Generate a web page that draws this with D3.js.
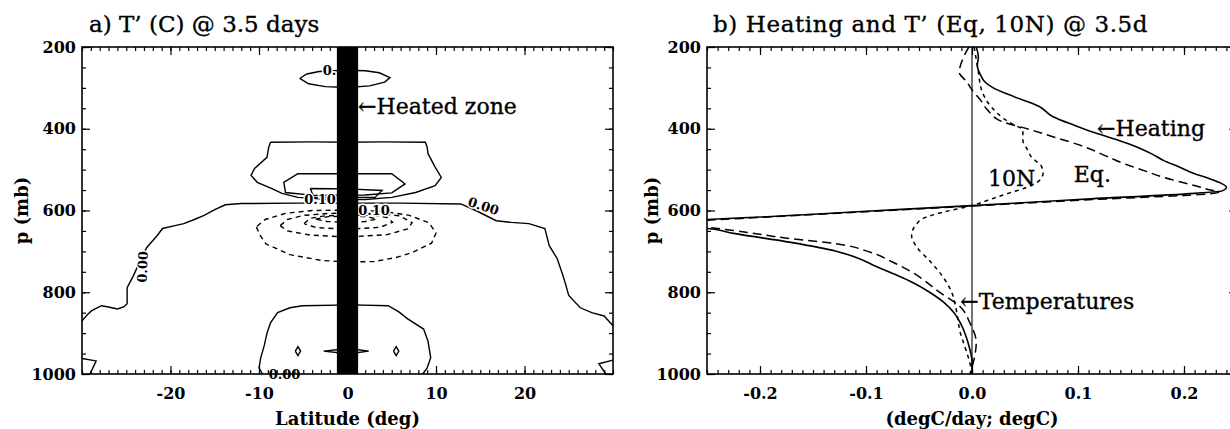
<!DOCTYPE html>
<html>
<head>
<meta charset="utf-8">
<script src="https://cdn.jsdelivr.net/npm/d3@7"></script>
<style>
body { margin: 0; background: #fff; }
svg text { font-family: "DejaVu Serif", serif; fill: #000; }
.tick text { font-size: 16px; font-weight: bold; }
.tick line { stroke-width: 1.2; }
.big { font-size: 22px; stroke: #000; stroke-width: 0.35px; }
.axt { font-size: 18px; font-weight: bold; }
</style>
</head>
<body>
<svg id="fig" width="1230" height="429"></svg>
<script>
// ---- tick labels
const pMajor = [200, 400, 600, 800, 1000];
const latMajor = [-20, -10, 0, 10, 20];
const rateMajor = [-0.2, -0.1, 0.0, 0.1, 0.2];

// ---- panel a: contours of T' (lat, p)
const heatedZone = [-1.2, 1.2];

const zeroContour = [[-30,870],[-29.4,855],[-28.9,845],[-27.8,833],[-27,836],[-26,841],[-25.3,836],[-24.9,828],
  [-24.9,789],[-24.2,760],[-23.4,722],[-22.7,691],[-21.5,661],[-20.9,644],[-19.5,637],[-18.5,632],[-17.3,622],
  [-16.2,612],[-15,598],[-13.8,586],[-12,583],[-6,582],[0,582],[6,582],[12.8,584],[14.5,600],[16.8,625],
  [18.5,629],[20.5,632],[22.3,644],[22.8,686],[23.7,718],[24.2,750],[24.6,777],[25,808],[26.3,838],
  [27.6,850],[29,858],[30,882]];

const posContours = [
  [[-5.4,277],[-4.6,266],[-3.2,260],[-1.5,258],[0,257],[2,258],[3.6,263],[4.8,275],[4.2,286],[2.5,295],[0,299],[-2.5,297],[-4.4,290],[-5.4,277]],
  [[-8.7,433],[-4,432],[0,433],[4,432],[8.8,433],[9,445],[9.1,461],[9.9,494],[10.6,519],[9.9,539],[7.7,556],[5,568],[2,573],[-2,573],[-5.6,568],[-7.4,558],[-8.6,546],[-10.2,531],[-10.9,514],[-10.5,497],[-9.1,470],[-8.9,445],[-8.7,433]],
  [[-5.6,510],[0,510],[5,510],[6.5,535],[5,557],[2,562],[-3.8,563],[-7,556],[-7.2,531],[-5.6,510]],
  [[-4.2,546],[0,547],[3.9,551],[3.1,568],[0,568],[-3.8,568],[-4.2,546]],
  [[-9.6,1000],[-10,985],[-9.8,960],[-9.4,930],[-9.1,900],[-8.7,875],[-7.9,850],[-6.5,838],[-5.1,833],[0.6,831],[4.6,833],[5.8,848],[6.8,865],[8.6,890],[9.1,920],[9.4,960],[9,985],[8.5,1000]],
  [[-5.9,944],[-5.6,933],[-5.3,944],[-5.6,955],[-5.9,944]],
  [[5.2,944],[5.5,933],[5.8,944],[5.5,955],[5.2,944]],
  [[-2.7,944],[-1,940],[1,940],[2.4,944],[1,948],[-1,948],[-2.7,944]],
  [[-30,962],[-28.4,968],[-29.1,1000]],
  [[30,966],[28.4,975],[29.2,1000]]
];

const negContours = [
  [[-10.3,640],[-9.9,660],[-9.2,682],[-6.5,708],[-3,722],[0,726],[3,725],[5.5,715],[7.3,703],[9.5,680],[10,655],[9.2,630],[7,612],[4,602],[0,599],[-4,600],[-7,607],[-9.3,622],[-10.3,640]],
  [[-7.6,637],[-6.8,622],[-5,612],[-2,607],[0,606],[3,607],[5.9,613],[7.3,630],[6.8,645],[4.5,659],[0,665],[-4.2,660],[-6.8,650],[-7.6,637]],
  [[-4.9,632],[-4.2,619],[-2.5,613],[0,611],[3,612],[4.5,617],[5.1,629],[3.7,641],[0,646],[-3.5,642],[-4.9,632]],
  [[-3.6,621],[-2.2,615],[0,614],[2.2,615],[3.3,621],[2,627],[0,629],[-2.3,627],[-3.6,621]]
];

const contourLabels = [
  { text: "0.10", lat: -2.8, p: 269, angle: 0 },
  { text: "0.10", lat: -4.9, p: 585, angle: 0 },
  { text: "-0.10", lat: 0.6, p: 610, angle: 0 },
  { text: "0.00", lat: 13.5, p: 588, angle: 18 },
  { text: "0.00", lat: -22.7, p: 777, angle: -88 },
  { text: "0.00", lat: -8.9, p: 1013, angle: 0 }
];

// ---- panel b: profiles (value, p)
const heating = [[0.004,200],[0.006,225],[0.005,245],[0.008,268],[0.012,285],[0.02,300],[0.04,322],[0.063,345],
  [0.076,370],[0.097,392],[0.116,410],[0.138,428],[0.156,445],[0.17,462],[0.181,478],[0.196,494],[0.21,510],
  [0.223,521],[0.233,531],[0.24,543],[0.236,552],[0.21,558],[0.1,573],[0.0,588],[-0.1,602],[-0.2,616],
  [-0.25,622],[-0.3,632],[-0.27,640],[-0.25,644],[-0.225,656],[-0.171,678],[-0.129,699],[-0.108,716],
  [-0.092,735],[-0.074,755],[-0.056,776],[-0.04,800],[-0.026,826],[-0.017,850],[-0.011,875],[-0.006,905],
  [-0.002,940],[0.0,970],[0.0,1000]];

const tempEq = [[-0.003,200],[-0.008,225],[-0.012,262],[-0.005,285],[0.0,305],[0.008,330],[0.015,355],[0.029,383],
  [0.056,403],[0.077,420],[0.092,432],[0.107,445],[0.125,465],[0.144,486],[0.163,503],[0.181,519],[0.21,539],
  [0.225,550],[0.233,555],[0.215,561],[0.2,563],[0.1,575],[0.0,589],[-0.1,603],[-0.2,617],[-0.25,624],
  [-0.29,632],[-0.25,641],[-0.225,649],[-0.171,669],[-0.129,681],[-0.096,702],[-0.075,726],[-0.056,752],
  [-0.03,801],[-0.012,833],[-0.002,875],[0.004,923],[0.002,963],[-0.002,1000]];

const temp10N = [[0.002,200],[0.004,230],[0.006,260],[0.009,305],[0.018,346],[0.03,375],[0.037,387],[0.048,404],
  [0.048,428],[0.052,450],[0.056,469],[0.066,494],[0.067,510],[0.066,518],[0.062,530],[0.05,545],[0.033,559],
  [0.015,575],[0.0,588],[-0.027,604],[-0.045,618],[-0.052,632],[-0.057,661],[-0.052,690],[-0.04,723],
  [-0.027,764],[-0.019,801],[-0.015,841],[-0.011,899],[-0.006,939],[-0.002,973],[0.0,1000]];

const svg = d3.select("#fig");

const yP = d3.scaleLinear().domain([200, 1000]).range([47, 374]);
const xLat = d3.scaleLinear().domain([-30, 30]).range([82, 613]);
const xRate = d3.scaleLinear().domain([-0.25, 0.25]).range([707, 1237]);

function drawFrame(x, xMajor, xMinor, fmt) {
    const [x0, x1] = x.range();
    const [y0, y1] = yP.range();
    const g = svg.append("g");
    const pMinor = d3.range(200, 1001, 50);

    const noDomain = s => s.select(".domain").remove();

    g.append("g").attr("transform", `translate(0,${y1})`)
     .call(d3.axisBottom(x).tickValues(xMinor).tickSize(-4).tickFormat("")).call(noDomain);
    g.append("g").attr("transform", `translate(0,${y1})`)
     .call(d3.axisBottom(x).tickValues(xMajor).tickSize(-8).tickPadding(14).tickFormat(fmt)).call(noDomain);
    g.append("g").attr("transform", `translate(0,${y0})`)
     .call(d3.axisTop(x).tickValues(xMinor).tickSize(-4).tickFormat("")).call(noDomain);
    g.append("g").attr("transform", `translate(0,${y0})`)
     .call(d3.axisTop(x).tickValues(xMajor).tickSize(-8).tickFormat("")).call(noDomain);

    g.append("g").attr("transform", `translate(${x0},0)`)
     .call(d3.axisLeft(yP).tickValues(pMinor).tickSize(-4).tickFormat("")).call(noDomain);
    g.append("g").attr("transform", `translate(${x0},0)`)
     .call(d3.axisLeft(yP).tickValues(pMajor).tickSize(-8).tickPadding(6).tickFormat(d => String(d))).call(noDomain);
    g.append("g").attr("transform", `translate(${x1},0)`)
     .call(d3.axisRight(yP).tickValues(pMinor).tickSize(-4).tickFormat("")).call(noDomain);
    g.append("g").attr("transform", `translate(${x1},0)`)
     .call(d3.axisRight(yP).tickValues(pMajor).tickSize(-8).tickFormat("")).call(noDomain);

    g.append("rect")
     .attr("x", x0).attr("y", y0)
     .attr("width", x1 - x0).attr("height", y1 - y0)
     .attr("fill", "none").attr("stroke", "#000").attr("stroke-width", 1.6);

    g.selectAll(".tick text").attr("fill", "#000");
    return g;
}

// ---------- panel a
const latLine = d3.line().x(d => xLat(d[0])).y(d => yP(d[1]));
const ga = svg.append("g");

ga.append("path").datum(zeroContour)
  .attr("d", latLine).attr("fill", "none").attr("stroke", "#000").attr("stroke-width", 1.4);

ga.selectAll(".pos").data(posContours).enter().append("path")
  .attr("class", "pos").attr("d", latLine)
  .attr("fill", "none").attr("stroke", "#000").attr("stroke-width", 1.4);

ga.selectAll(".neg").data(negContours).enter().append("path")
  .attr("class", "neg").attr("d", latLine)
  .attr("fill", "none").attr("stroke", "#000").attr("stroke-width", 1.4)
  .attr("stroke-dasharray", "5,4");

ga.selectAll(".clab").data(contourLabels).enter().append("text")
  .attr("class", "clab")
  .attr("transform", d => `translate(${xLat(d.lat)},${yP(d.p)}) rotate(${d.angle})`)
  .style("font-size", "13px").style("font-weight", "bold")
  .attr("stroke", "#fff").attr("stroke-width", 3).attr("paint-order", "stroke")
  .text(d => d.text);

ga.append("rect")
  .attr("x", xLat(heatedZone[0])).attr("y", yP(200))
  .attr("width", xLat(heatedZone[1]) - xLat(heatedZone[0]))
  .attr("height", yP(1000) - yP(200))
  .attr("fill", "#000");

ga.append("text").attr("class", "big")
  .attr("x", xLat(heatedZone[1])).attr("y", yP(364))
  .text("\u2190Heated zone");

drawFrame(xLat, latMajor, d3.range(-30, 31, 1), d => String(d));

svg.append("text").attr("class", "big").attr("x", 89).attr("y", 32)
   .style("font-size", "23px")
   .text("a) T\u2019 (C) @ 3.5 days");
svg.append("text").attr("class", "axt").attr("x", xLat(0)).attr("y", 425).attr("text-anchor", "middle")
   .text("Latitude (deg)");
svg.append("text").attr("class", "axt").attr("transform", `translate(28,${yP(600)}) rotate(-90)`)
   .attr("text-anchor", "middle").text("p (mb)");

// ---------- panel b
svg.append("clipPath").attr("id", "clipB").append("rect")
   .attr("x", 707).attr("y", 47).attr("width", 530).attr("height", 327);

const rateLine = d3.line().x(d => xRate(d[0])).y(d => yP(d[1])).curve(d3.curveMonotoneY);
const gb = svg.append("g").attr("clip-path", "url(#clipB)");

gb.append("line")
  .attr("x1", xRate(0)).attr("x2", xRate(0))
  .attr("y1", yP(200)).attr("y2", yP(1000))
  .attr("stroke", "#000").attr("stroke-width", 1.1);

gb.append("path").datum(heating).attr("d", rateLine)
  .attr("fill", "none").attr("stroke", "#000").attr("stroke-width", 1.6);
gb.append("path").datum(tempEq).attr("d", rateLine)
  .attr("fill", "none").attr("stroke", "#000").attr("stroke-width", 1.5).attr("stroke-dasharray", "9,5");
gb.append("path").datum(temp10N).attr("d", rateLine)
  .attr("fill", "none").attr("stroke", "#000").attr("stroke-width", 1.5).attr("stroke-dasharray", "4,4");

drawFrame(xRate, rateMajor, d3.range(-25, 26, 1).map(v => v / 100), d => d.toFixed(1));

const notes = [
  { text: "\u2190Heating", v: 0.118, p: 418 },
  { text: "Eq.", v: 0.096, p: 530 },
  { text: "10N", v: 0.015, p: 540 },
  { text: "\u2190Temperatures", v: -0.011, p: 840 }
];
svg.selectAll(".note").data(notes).enter().append("text")
   .attr("class", "note big")
   .attr("x", d => xRate(d.v)).attr("y", d => yP(d.p))
   .text(d => d.text);

svg.append("text").attr("class", "big").attr("x", 713).attr("y", 32)
   .style("font-size", "23px").style("letter-spacing", "0.6px")
   .text("b) Heating and T\u2019 (Eq, 10N) @ 3.5d");
svg.append("text").attr("class", "axt").attr("x", xRate(0)).attr("y", 425).attr("text-anchor", "middle")
   .text("(degC/day; degC)");
svg.append("text").attr("class", "axt").attr("transform", `translate(658,${yP(600)}) rotate(-90)`)
   .attr("text-anchor", "middle").text("p (mb)");
</script>
</body>
</html>
